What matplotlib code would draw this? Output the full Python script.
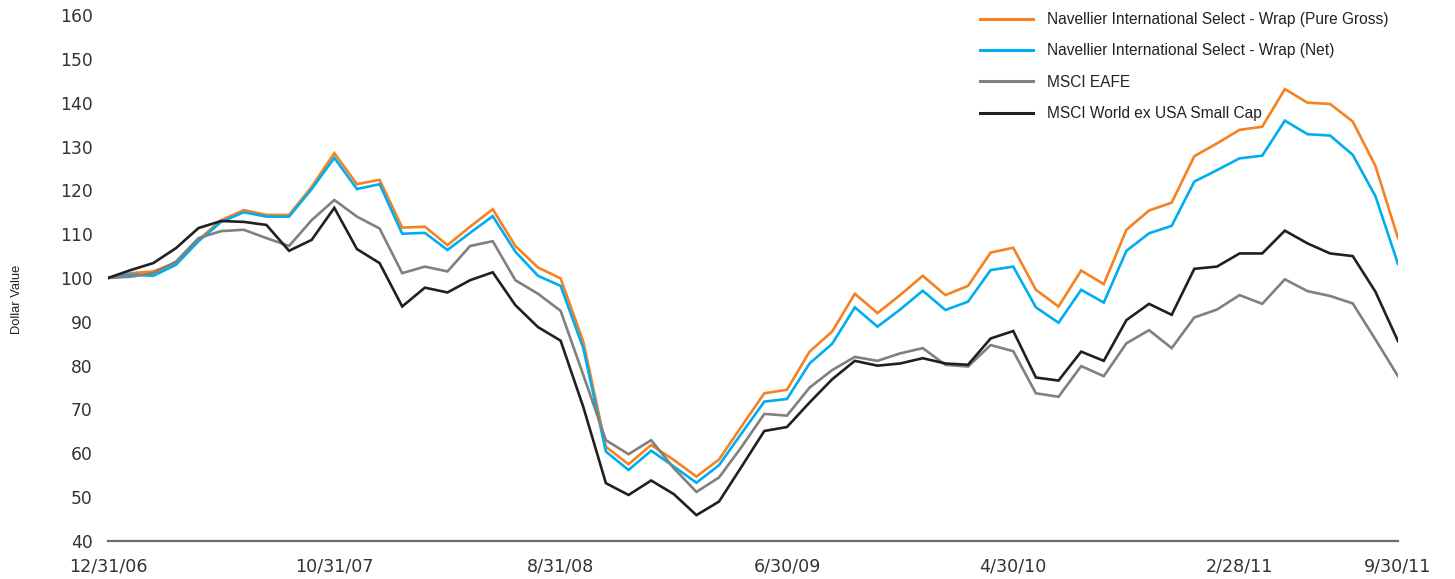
import matplotlib
matplotlib.use("Agg")
import matplotlib.pyplot as plt

dates = ["12/31/06", "10/31/07", "8/31/08", "6/30/09", "4/30/10", "2/28/11", "9/30/11"]
date_idx = [0, 10, 20, 30, 40, 50, 57]

pure_gross = [100, 101.1, 101.5, 103.5, 108.7, 113.2, 115.5, 114.4, 114.4, 120.8,
              128.5, 121.4, 122.4, 111.5, 111.7, 107.5, 111.7, 115.7, 107.3, 102.4,
              99.9, 85.5, 61.5, 57.5, 61.9, 58.5, 54.7, 58.6, 66.2, 73.7,
              74.5, 83.2, 87.8, 96.4, 92.0, 96.1, 100.5, 96.1, 98.2, 105.8,
              106.9, 97.3, 93.5, 101.7, 98.6, 111.0, 115.4, 117.2, 127.8, 130.7,
              133.8, 134.5, 143.1, 140.0, 139.7, 135.7, 125.6, 109.1]
net = [100, 100.8, 100.5, 103.0, 108.4, 112.8, 115.0, 114.0, 114.0, 120.3,
       127.4, 120.3, 121.4, 110.1, 110.3, 106.4, 110.3, 114.1, 106.0, 100.5,
       98.2, 84.0, 60.4, 56.2, 60.6, 57.0, 53.3, 57.3, 64.6, 71.8,
       72.4, 80.5, 85.0, 93.3, 88.9, 92.8, 97.1, 92.7, 94.6, 101.8,
       102.6, 93.3, 89.8, 97.3, 94.4, 106.2, 110.2, 111.9, 122.0, 124.6,
       127.3, 127.9, 135.9, 132.8, 132.5, 128.1, 118.7, 103.2]
eafe = [100, 100.3, 101.1, 103.7, 109.1, 110.7, 111.0, 109.1, 107.3, 113.2,
        117.8, 114.0, 111.3, 101.1, 102.6, 101.5, 107.3, 108.4, 99.5, 96.4,
        92.5, 77.9, 63.0, 59.8, 63.0, 56.6, 51.2, 54.5, 61.5, 69.0,
        68.6, 75.0, 79.0, 82.0, 81.1, 82.8, 84.0, 80.2, 79.8, 84.7,
        83.3, 73.7, 72.9, 79.9, 77.6, 85.1, 88.1, 84.0, 91.0, 92.8,
        96.1, 94.1, 99.7, 97.0, 95.9, 94.2, 86.0, 77.6]
small_cap = [100, 101.8, 103.4, 106.8, 111.4, 113.0, 112.8, 112.1, 106.2, 108.7,
             116.0, 106.6, 103.4, 93.5, 97.8, 96.7, 99.5, 101.3, 93.8, 88.8,
             85.7, 70.6, 53.2, 50.5, 53.8, 50.7, 45.9, 49.0, 57.0, 65.1,
             66.0, 71.6, 76.9, 81.1, 80.0, 80.5, 81.7, 80.5, 80.2, 86.2,
             87.9, 77.3, 76.6, 83.2, 81.1, 90.4, 94.1, 91.6, 102.1, 102.6,
             105.6, 105.6, 110.8, 107.9, 105.6, 105.0, 96.9, 85.6]

series_names = ["Navellier International Select - Wrap (Pure Gross)",
                "Navellier International Select - Wrap (Net)",
                "MSCI EAFE",
                "MSCI World ex USA Small Cap"]
series_colors = ["#F58220", "#00AEEF", "#808080", "#231F20"]
yticks = [40, 50, 60, 70, 80, 90, 100, 110, 120, 130, 140, 150, 160]

fig = plt.figure(figsize=(14.55, 5.79), dpi=100)
ax = fig.add_axes([108/1455, 38/579, 1290/1455, 526/579])

x = list(range(len(pure_gross)))
for vals, name, col in zip([pure_gross, net, eafe, small_cap], series_names, series_colors):
    ax.plot(x, vals, color=col, lw=1.9, label=name, solid_joinstyle="miter")

ax.set_xlim(0, len(pure_gross) - 1)
ax.set_ylim(40, 160)
ax.set_yticks(yticks)
ax.set_yticklabels([str(v) for v in yticks], fontsize=12.3, color="#333333", family="DejaVu Sans")
ax.set_xticks(date_idx)
ax.set_xticklabels(dates, fontsize=12.6, color="#333333", family="DejaVu Sans")
ax.tick_params(axis="y", length=0, pad=11)
ax.tick_params(axis="x", length=0, pad=12)
for s in ["top", "right", "left"]:
    ax.spines[s].set_visible(False)
ax.spines["bottom"].set_color("#6d6d6d")
ax.spines["bottom"].set_linewidth(1.6)

fig.text(17/1455, 1 - 299/579, "Dollar Value", rotation=90, ha="center", va="center",
         fontsize=9.3, family="Liberation Sans", color="#222222")

leg = ax.legend(loc="upper left", bbox_to_anchor=(980/1455, 1 - 12/579),
                bbox_transform=fig.transFigure, frameon=False,
                prop={"family": "Liberation Sans", "size": 11.2},
                handlelength=3.4, handletextpad=0.88, labelspacing=1.05,
                borderpad=0, borderaxespad=0)
for t in leg.get_texts():
    t.set_color("#222222")
for l in leg.get_lines():
    l.set_linewidth(2.2)

fig.savefig("out.png", dpi=100)
